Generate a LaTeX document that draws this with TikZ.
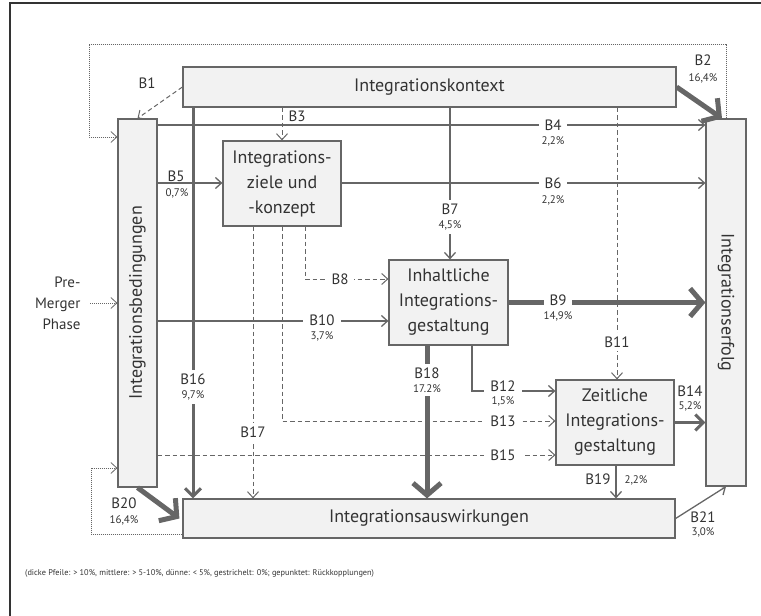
\documentclass[tikz,border=0pt]{standalone}
\usepackage{fontspec}
\setmainfont{PT Sans}
\usetikzlibrary{arrows.meta}
\definecolor{linie}{HTML}{666666}
\definecolor{kfill}{HTML}{F2F2F2}
\definecolor{schrift}{HTML}{333333}
\newcommand\pz[1]{{\fontsize{11}{12}\selectfont #1}}

\begin{document}
\begin{tikzpicture}[x=1pt,y=-1pt,
    kasten/.style={draw=linie,fill=kfill,line width=1.2pt,inner sep=0pt,align=center,text=schrift,font=\fontsize{18}{25}\selectfont},
    duenn/.style={draw=linie,line width=1.3pt,-{Straight Barb[length=6pt,width=11pt]}},
    mittel/.style={draw=linie,line width=3pt,-{Straight Barb[length=8pt,width=16pt]}},
    dick/.style={draw=linie,line width=5pt,-{Straight Barb[length=12pt,width=28pt]}},
    gestr/.style={draw=linie,line width=1pt,dash pattern=on 4.5pt off 3pt,-{Straight Barb[length=6pt,width=11pt]}},
    punkt/.style={draw=linie,line width=.8pt,dash pattern=on 1pt off 1pt,-{Straight Barb[length=6pt,width=11pt]}},
    txt/.style={inner sep=1pt,text=schrift,font=\fontsize{15}{16}\selectfont},
    lab/.style={txt,fill=white,inner xsep=6pt},
    vlab/.style={fill=white,align=center,inner xsep=2pt,inner ysep=4pt,text=schrift,font=\fontsize{15}{14}\selectfont},
    proz/.style={inner sep=1pt,text=schrift,font=\fontsize{11}{12}\selectfont}]
    \useasboundingbox (0,0) rectangle (761,616);
    % Rahmen
    \draw[schrift,line width=1.5pt] (10,616) -- (10,3) -- (761,3);

    % Kaesten
    \node[kasten,minimum width=493pt,minimum height=40pt] (kontext) at (429.5,87) {Integrationskontext};
    \node[kasten,minimum width=39pt,minimum height=368pt] (bed) at (137.5,303) {};
    \node[rotate=90,text=schrift,font=\fontsize{18}{25}\selectfont] (bedtxt) at (bed.center) {Integrationsbedingungen};
    \node[kasten,minimum width=40pt,minimum height=367pt] (erf) at (726,302.5) {};
    \node[rotate=-90,text=schrift,font=\fontsize{18}{25}\selectfont] (erftxt) at (erf.center) {Integrationserfolg};
    \node[kasten,minimum width=118pt,minimum height=85pt] (ziele) at (282,183.5) {Integrations-\\ziele und\\-konzept};
    \node[kasten,minimum width=119pt,minimum height=85pt] (inh) at (448.5,302.5) {Inhaltliche\\Integrations-\\gestaltung};
    \node[kasten,minimum width=118pt,minimum height=85pt] (zeit) at (615,422.5) {Zeitliche\\Integrations-\\gestaltung};
    \node[kasten,minimum width=492pt,minimum height=39pt] (ausw) at (429,518.5) {Integrationsauswirkungen};

    \node[anchor=east,align=right,text=schrift,font=\fontsize{15}{21}\selectfont] (pre) at (84,303) {Pre-\\Merger\\Phase};

    % Rueckkopplungen
    \draw[punkt] ([xshift=6pt]pre.east) -- (bed.west);
    \draw[punkt] (erf.north) |- (89,44) |- (bed.west |- 0,137);
    \draw[punkt] (ausw.west |- 0,534) -| (91,468) -- (bed.west |- 0,468);

    % gestrichelt
    \draw[gestr] (kontext.west) -- (bed.north);
    \draw[gestr] (kontext.south -| 282,0) -- (ziele.north);
    \draw[gestr] (ziele.south -| 305,0) |- (inh.west |- 0,279);
    \draw[gestr] (kontext.south -| 617,0) -- (zeit.north -| 617,0);
    \draw[gestr] (ziele.south -| 282,0) |- (zeit.west |- 0,421);
    \draw[gestr] (bed.east |- 0,455) -- (zeit.west |- 0,455);
    \draw[gestr] (ziele.south -| 253,0) -- (ausw.north -| 253,0);

    % duenn
    \draw[duenn] (bed.east |- 0,125) -- (erf.west |- 0,125);
    \draw[duenn] (bed.east |- 0,183) -- (ziele.west |- 0,183);
    \draw[duenn] (ziele.east |- 0,183) -- (erf.west |- 0,183);
    \draw[duenn] (kontext.south -| 450,0) -- (inh.north -| 450,0);
    \draw[duenn] (bed.east |- 0,321) -- (inh.west |- 0,321);
    \draw[duenn] (inh.south -| 472,0) |- (zeit.west |- 0,391);
    \draw[duenn] (zeit.south -| 616,0) -- (ausw.north -| 616,0);
    \draw[duenn] (ausw.east) -- (erf.south);

    % mittel und dick
    \draw[mittel] (kontext.south -| 193,0) -- (ausw.north -| 193,0);
    \draw[mittel] (zeit.east) -- (erf.west |- zeit.east);
    \draw[dick] (kontext.east) -- ([xshift=-4pt]erf.north);
    \draw[dick] (inh.east) -- (erf.west |- inh.east);
    \draw[dick] (inh.south -| 427,0) -- (ausw.north -| 427,0);
    \draw[dick] (bed.south) -- ([xshift=-3pt]ausw.west);

    % Beschriftungen
    \node[txt] (b1) at (147,83) {B1};
    \node[txt] (b2) at (703,60) {B2};
    \node[proz] (p2) at (703,78) {16,4\%};
    \node[txt] (b3) at (297,116) {B3};
    \node[lab] (b4) at (553,125) {B4};
    \node[proz] (p4) at (553,141) {2,2\%};
    \node[lab] (b5) at (176,176) {B5};
    \node[proz] (p5) at (177,193) {0,7\%};
    \node[lab] (b6) at (553,183) {B6};
    \node[proz] (p6) at (553,200) {2,2\%};
    \node[vlab] (b7) at (450,217) {B7\\\pz{4,5\%}};
    \node[lab] (b8) at (340,279) {B8};
    \node[lab] (b9) at (558,300) {B9};
    \node[proz] (p9) at (558,316) {14,9\%};
    \node[lab] (b10) at (322,320) {B10};
    \node[proz] (p10) at (322,336) {3,7\%};
    \node[lab,inner xsep=2pt,inner ysep=4pt] (b11) at (617,342) {B11};
    \node[lab] (b12) at (503,386) {B12};
    \node[proz] (p12) at (503,401) {1,5\%};
    \node[lab] (b13) at (503,421) {B13};
    \node[txt] (b14) at (690,391) {B14};
    \node[proz] (p14) at (690,406) {5,2\%};
    \node[lab] (b15) at (503,455) {B15};
    \node[vlab] (b16) at (193,387) {B16\\\pz{9,7\%}};
    \node[lab,inner xsep=2pt,inner ysep=4pt] (b17) at (253,432) {B17};
    \node[vlab] (b18) at (427,380) {B18\\\pz{17.2\%}};
    \node[txt] (b19) at (598,479) {B19};
    \node[proz] (p19) at (636,480) {2,2\%};
    \node[txt] (b20) at (124,503) {B20};
    \node[proz] (p20) at (124,520) {16,4\%};
    \node[txt] (b21) at (703,517) {B21};
    \node[proz] (p21) at (703,532) {3,0\%};

    \node[anchor=west,inner sep=0pt,text=schrift,font=\fontsize{8.3}{10}\selectfont] (fn) at (25,573) {(dicke Pfeile: > 10\%, mittlere: > 5-10\%, dünne: < 5\%, gestrichelt: 0\%; gepunktet: Rückkopplungen)};
\end{tikzpicture}
\end{document}
